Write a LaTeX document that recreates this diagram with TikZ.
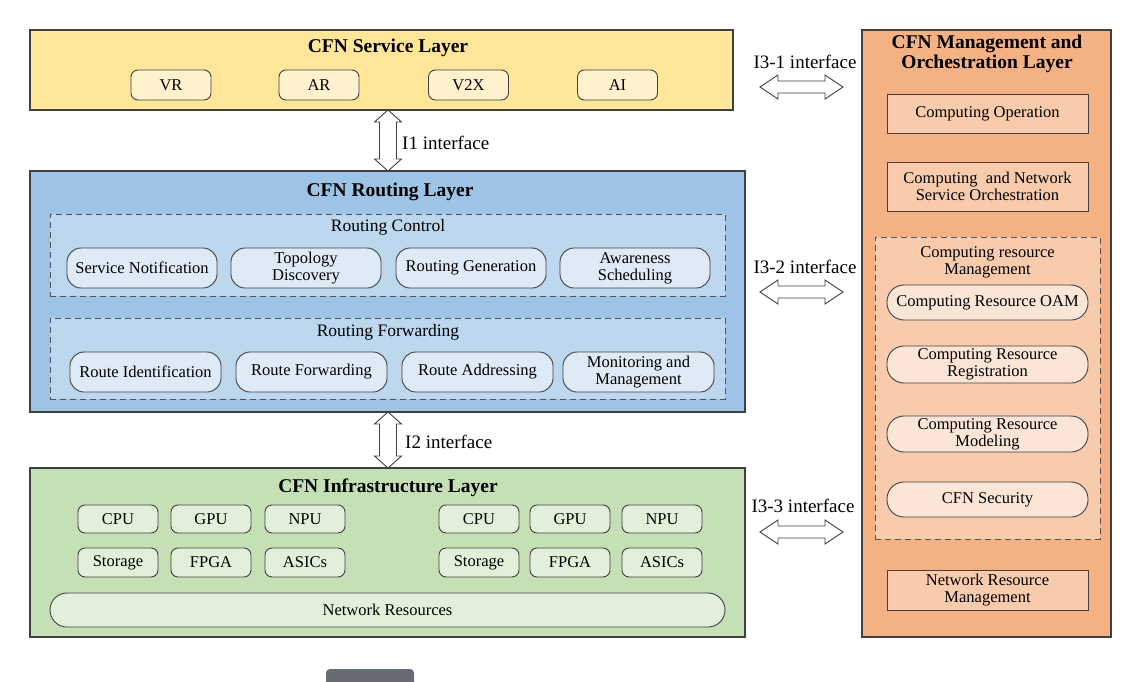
\documentclass[tikz,border=0pt]{standalone}
\usepackage{fontspec}
\setmainfont{Liberation Serif}
\usetikzlibrary{calc}
\definecolor{edge}{HTML}{404040}
\definecolor{svcbg}{HTML}{FFE699}
\definecolor{svcit}{HTML}{FFF2CC}
\definecolor{rtbg}{HTML}{9DC3E6}
\definecolor{rtsub}{HTML}{BDD7EE}
\definecolor{rtit}{HTML}{DEEBF7}
\definecolor{inbg}{HTML}{C5E0B4}
\definecolor{init}{HTML}{E2F0D9}
\definecolor{mgbg}{HTML}{F4B183}
\definecolor{mgsub}{HTML}{F8CBAD}
\definecolor{mgit}{HTML}{FBE5D6}
\definecolor{widget}{HTML}{676B72}
\newcommand\itemfont{\fontsize{16.5}{17}\selectfont}
\newcommand\titlefont{\fontsize{19.5}{20}\selectfont\bfseries}
\newcommand\lblfont{\fontsize{19}{21}\selectfont}
\newcommand\subfont{\fontsize{17.5}{19}\selectfont}
\newcommand\vdarrow[2]{\draw[darr] (#1) -- ++(13.5,12) -- ++(-5,0) -- ($(#2)+(8.5,-12)$) -- ++(5,0) -- (#2) -- ++(-13.5,-12) -- ++(5,0) -- ($(#1)+(-8.5,12)$) -- ++(-5,0) -- cycle;}
\newcommand\hdarrow[2]{\draw[darr] (#1) -- ++(18,-12) -- ++(0,6) -- ($(#2)+(-18,-6)$) -- ++(0,-6) -- (#2) -- ++(-18,12) -- ++(0,-6) -- ($(#1)+(18,6)$) -- ++(0,6) -- cycle;}
\tikzset{
  layerbox/.style={draw=edge, line width=1.1pt, inner sep=0pt, outer sep=0pt},
  subbox/.style={draw=edge!90, line width=1pt, dash pattern=on 6pt off 4pt, inner sep=0pt},
  item/.style={draw=edge, line width=0.9pt, font=\itemfont, align=center, inner sep=0pt},
  titletext/.style={font=\titlefont, align=center, inner sep=0pt},
  lbl/.style={font=\lblfont, inner sep=0pt},
  sublbl/.style={font=\subfont, align=center, inner sep=0pt},
  darr/.style={draw=edge, fill=white, line width=0.9pt, line join=miter},
}
\begin{document}
\begin{tikzpicture}[x=1pt,y=-1pt]
\useasboundingbox (0,0) rectangle (1129,682);
\fill[white] (0,0) rectangle (1129,682);

% ---------- Service layer ----------
\node[layerbox, fill=svcbg, minimum width=703pt, minimum height=80pt] (svc) at (381.5,70) {};
\node[titletext] (svct) at (388,47.5) {CFN Service Layer};
\foreach \n/\x/\t in {vr/171/VR, ar/319/AR, vx/468.5/V2X, ai/617.5/AI}
  \node[item, fill=svcit, rounded corners=7pt, minimum width=80pt, minimum height=30pt] (\n) at (\x,85) {\t};

% ---------- Routing layer ----------
\node[layerbox, fill=rtbg, minimum width=715pt, minimum height=241pt] (rt) at (387.5,291.5) {};
\node[titletext] (rtt) at (390,192) {CFN Routing Layer};
\node[subbox, fill=rtsub, minimum width=675pt, minimum height=82pt] (rc) at (387.5,255) {};
\node[sublbl] (rcl) at (388,227.5) {Routing Control};
\node[item, fill=rtit, rounded corners=14pt, minimum width=150pt, minimum height=40pt] (sn) at (142,268) {Service Notification};
\node[item, fill=rtit, rounded corners=14pt, minimum width=150pt, minimum height=40pt] (td) at (306,268) {Topology\\Discovery};
\node[item, fill=rtit, rounded corners=14pt, minimum width=150pt, minimum height=40pt] (rg) at (471,268) {Routing Generation};
\node[item, fill=rtit, rounded corners=14pt, minimum width=150pt, minimum height=40pt] (as) at (635,268) {Awareness\\Scheduling};
\node[subbox, fill=rtsub, minimum width=675pt, minimum height=81pt] (rf) at (387.5,358.5) {};
\node[sublbl] (rfl) at (388,332.5) {Routing Forwarding};
\node[item, fill=rtit, rounded corners=14pt, minimum width=151pt, minimum height=40pt] (ri) at (145.5,372) {Route Identification};
\node[item, fill=rtit, rounded corners=14pt, minimum width=151pt, minimum height=40pt] (rfw) at (311.5,372) {Route Forwarding};
\node[item, fill=rtit, rounded corners=14pt, minimum width=151pt, minimum height=40pt] (ra) at (477.5,372) {Route Addressing};
\node[item, fill=rtit, rounded corners=14pt, minimum width=151pt, minimum height=40pt] (mm) at (638.5,372) {Monitoring and\\Management};

% ---------- Infrastructure layer ----------
\node[layerbox, fill=inbg, minimum width=715pt, minimum height=169pt] (inf) at (387.5,552.5) {};
\node[titletext] (inft) at (388,488) {CFN Infrastructure Layer};
\foreach \n/\x/\t in {cpua/118/CPU, gpua/211/GPU, npua/305/NPU, cpub/479/CPU, gpub/570/GPU, npub/662/NPU}
  \node[item, fill=init, rounded corners=7pt, minimum width=80pt, minimum height=28pt] (\n) at (\x,519) {\t};
\foreach \n/\x/\t in {stoa/118/Storage, fpga/211/FPGA, asia/305/ASICs, stob/479/Storage, fpgb/570/FPGA, asib/662/ASICs}
  \node[item, fill=init, rounded corners=7pt, minimum width=80pt, minimum height=29pt] (\n) at (\x,562.5) {\t};
\node[item, fill=init, rounded corners=17pt, minimum width=675pt, minimum height=34pt] (nr) at (387.5,610) {Network Resources};

% ---------- Management layer ----------
\node[layerbox, fill=mgbg, minimum width=249pt, minimum height=607pt] (mg) at (986.5,333.5) {};
\node[titletext] (mgt) at (987,54) {CFN Management and\\Orchestration Layer};
\node[item, fill=mgsub, minimum width=201pt, minimum height=39pt] (co) at (987.5,113.5) {Computing Operation};
\node[item, fill=mgsub, minimum width=201pt, minimum height=49pt] (cnso) at (987.5,186.5) {Computing~ and Network\\Service Orchestration};
\node[subbox, fill=mgsub, minimum width=225pt, minimum height=302pt] (crm) at (987.5,388) {};
\node[sublbl, font=\itemfont] (crml) at (987.5,262) {Computing resource\\Management};
\node[item, fill=mgit, rounded corners=17pt, minimum width=201pt, minimum height=35pt] (oam) at (987.5,302.5) {Computing Resource OAM};
\node[item, fill=mgit, rounded corners=17pt, minimum width=201pt, minimum height=37pt] (reg) at (987.5,364.5) {Computing Resource\\Registration};
\node[item, fill=mgit, rounded corners=17pt, minimum width=201pt, minimum height=36pt] (mod) at (987.5,434) {Computing Resource\\Modeling};
\node[item, fill=mgit, rounded corners=17pt, minimum width=201pt, minimum height=35pt] (sec) at (987.5,499.5) {CFN Security};
\node[item, fill=mgsub, minimum width=201pt, minimum height=40pt] (nrm) at (987.5,590) {Network Resource\\Management};

% ---------- Interfaces ----------
\coordinate (ax) at (388,0);
\vdarrow{ax |- svc.south}{ax |- rt.north}
\node[lbl, anchor=west] (i1) at (402,142.5) {I1 interface};
\vdarrow{ax |- rt.south}{ax |- inf.north}
\node[lbl, anchor=west] (i2) at (405,441.5) {I2 interface};

\coordinate (h1a) at (760,87);  \coordinate (h1b) at (843,87);
\coordinate (h2a) at (760,292); \coordinate (h2b) at (843,292);
\coordinate (h3a) at (760,532); \coordinate (h3b) at (843,532);
\hdarrow{h1a}{h1b}
\hdarrow{h2a}{h2b}
\hdarrow{h3a}{h3b}
\node[lbl] (i31) at (805,61.5) {I3-1 interface};
\node[lbl] (i32) at (805,266.5) {I3-2 interface};
\node[lbl] (i33) at (803,505.5) {I3-3 interface};

% ---------- page widget (partially visible) ----------
\fill[widget, rounded corners=4pt] (326,695) rectangle (414,669);
\end{tikzpicture}
\end{document}
